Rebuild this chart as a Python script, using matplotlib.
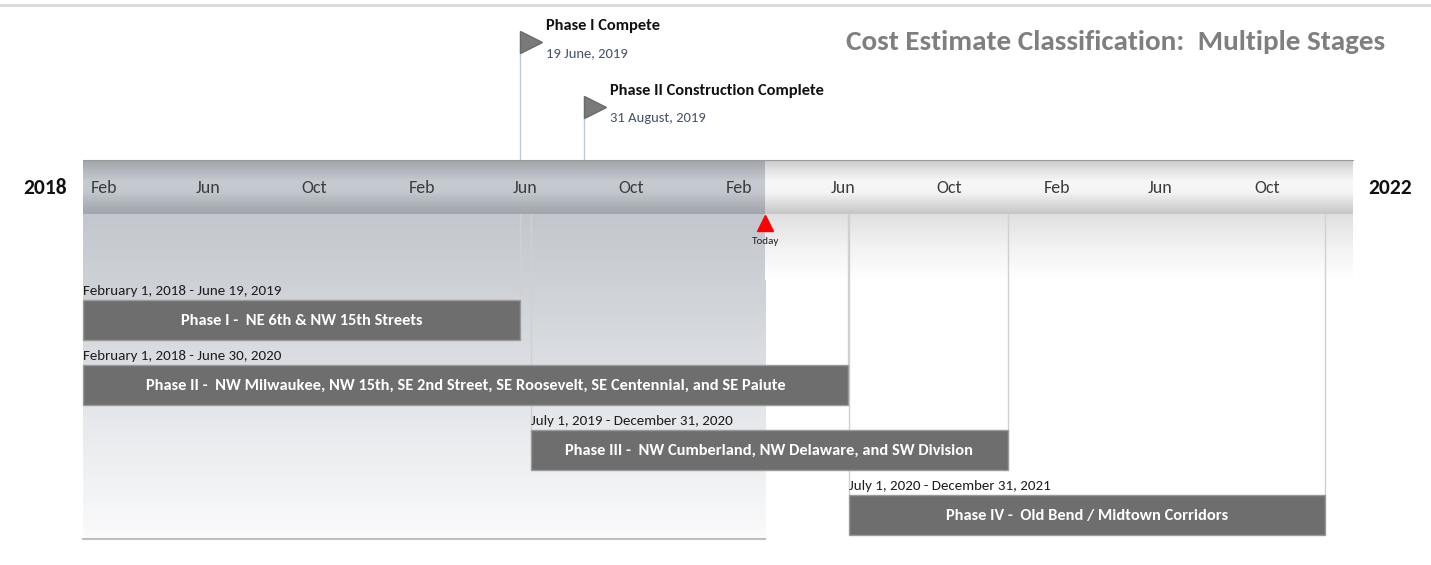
import numpy as np
import pandas as pd
import matplotlib
matplotlib.use("Agg")
from matplotlib import pyplot as plt
import matplotlib.dates as mdates
from matplotlib.colors import to_rgb

# timeline data
axis_start = "2018-02-01"
axis_end = "2022-02-01"
today = "2020-03-27"

phase_names = [
    "Phase I -  NE 6th & NW 15th Streets",
    "Phase II -  NW Milwaukee, NW 15th, SE 2nd Street, SE Roosevelt, SE Centennial, and SE Paiute",
    "Phase III -  NW Cumberland, NW Delaware, and SW Division",
    "Phase IV -  Old Bend / Midtown Corridors",
]
phase_starts = ["2018-02-01", "2018-02-01", "2019-07-01", "2020-07-01"]
phase_ends = ["2019-06-19", "2020-06-30", "2020-12-31", "2021-12-31"]
phase_date_labels = [
    "February 1, 2018 - June 19, 2019",
    "February 1, 2018 - June 30, 2020",
    "July 1, 2019 - December 31, 2020",
    "July 1, 2020 - December 31, 2021",
]

milestone_names = ["Phase I Compete", "Phase II Construction Complete"]
milestone_dates = ["2019-06-19", "2019-08-31"]
milestone_date_labels = ["19 June, 2019", "31 August, 2019"]

start_year_label = "2018"
end_year_label = "2022"
title = "Cost Estimate Classification:  Multiple Stages"

plt.rcParams["font.family"] = ["Carlito", "DejaVu Sans"]

W, H = 1431, 565
fig = plt.figure(figsize=(W / 100, H / 100), dpi=100)
ax = fig.add_axes([0, 0, 1, 1])

d = lambda s: mdates.date2num(pd.Timestamp(s))
x0, x1 = d(axis_start), d(axis_end)
px_per_day = (1353 - 83) / (x1 - x0)
px = lambda p: p / px_per_day  # pixels -> days
xt = d(today)


def vgrad(left, right, top, bottom, colors, z=0):
    stops = np.linspace(0, 1, len(colors))
    t = np.linspace(0, 1, 200)
    rgb = np.array([to_rgb(c) for c in colors])
    arr = np.stack([np.interp(t, stops, rgb[:, k]) for k in range(3)], axis=-1)
    ax.imshow(arr[:, None, :], extent=(left, right, bottom, top), origin="upper",
              aspect="auto", zorder=z, interpolation="bilinear")


band_top, band_bot = 160, 214

# shaded area below band (past) and faint strip (future)
vgrad(x0, xt, band_bot, 540, ["#c3c7cd", "#d4d7dc", "#e8eaed", "#fbfbfc"], z=0)
vgrad(xt, x1, band_bot, 280, ["#e0e0e0", "#f2f2f2", "#ffffff"], z=0)
ax.plot([x0, xt], [539, 539], color="#bfbfbf", lw=1.5, zorder=1)

# timescale band
vgrad(x0, xt, band_top, band_bot,
      ["#9fa3aa", "#b3b7be", "#c6cad1", "#c3c7ce", "#aeb2b9", "#a1a5ac"], z=2)
vgrad(xt, x1, band_top, band_bot,
      ["#c8c8c8", "#e4e4e4", "#f7f7f7", "#f4f4f4", "#dcdcdc", "#c6c6c6"], z=2)
ax.plot([x0, x1], [band_top, band_top], color="#9a9a9a", lw=0.8, zorder=3)

# month labels
ticks = pd.date_range(axis_start, periods=12, freq="4MS")
for t in ticks:
    ax.text(mdates.date2num(t) + px(8), 188, t.strftime("%b"), fontsize=13,
            color="#3c3c3c", ha="left", va="center", zorder=3)

ax.text(x0 - px(16), 188, start_year_label, fontsize=15.5, fontweight="bold",
        ha="right", va="center", color="#111111")
ax.text(x1 + px(15), 188, end_year_label, fontsize=15.5, fontweight="bold",
        ha="left", va="center", color="#111111")

# today marker
ax.plot([xt], [223], marker="^", ms=11, color="#ff0000", mec="#ff0000", zorder=5)
ax.text(xt, 241, "Today", fontsize=8, ha="center", va="center", color="#222222", zorder=5)

# phase bars
row_y = [320, 385, 450, 515]
bar_h = 40
for name, s, e, lab, y in zip(phase_names, phase_starts, phase_ends, phase_date_labels, row_y):
    xs, xe = d(s), d(e)
    for xv in (xs, xe):
        if xv > x0:
            ax.plot([xv, xv], [band_bot, y - bar_h / 2], color="#d0d0d0", lw=1, zorder=1)
    ax.barh(y, xe - xs, left=xs, height=bar_h, color="#6e6e6e",
            edgecolor="#9a9a9a", lw=1, zorder=4)
    ax.text((xs + xe) / 2, y + 1, name, fontsize=11.8, fontweight="bold", color="white",
            ha="center", va="center", zorder=5)
    ax.text(xs, y - bar_h / 2 - 9, lab, fontsize=10.8, color="#1e1e1e",
            ha="left", va="center", zorder=5)

# milestones
milestone_y = [42, 107]
for name, md, lab, y in zip(milestone_names, milestone_dates, milestone_date_labels, milestone_y):
    xm = d(md)
    ax.plot([xm, xm], [y - 10, band_top], color="#b9c9dc", lw=1, zorder=1)
    ax.plot([xm + px(11)], [y], marker=">", ms=16, color="#7a7a7a", mec="#6a6a6a", zorder=5)
    ax.text(xm + px(26), y - 16, name, fontsize=11.8, fontweight="bold",
            color="#111111", ha="left", va="center")
    ax.text(xm + px(26), y + 11, lab, fontsize=10.5, color="#44546a",
            ha="left", va="center")

ax.text(x0 + px(1385 - 83), 42, title, fontsize=21, fontweight="bold",
        color="#7f7f7f", ha="right", va="center")

# top border line
ax.plot([x0 - px(83), x0 + px(W - 83)], [5, 5], color="#d9d9d9", lw=2)

ax.set_xlim(x0 - px(83), x0 + px(W - 83))
ax.set_ylim(H, 0)
ax.axis("off")

fig.savefig("out.png", dpi=100)
